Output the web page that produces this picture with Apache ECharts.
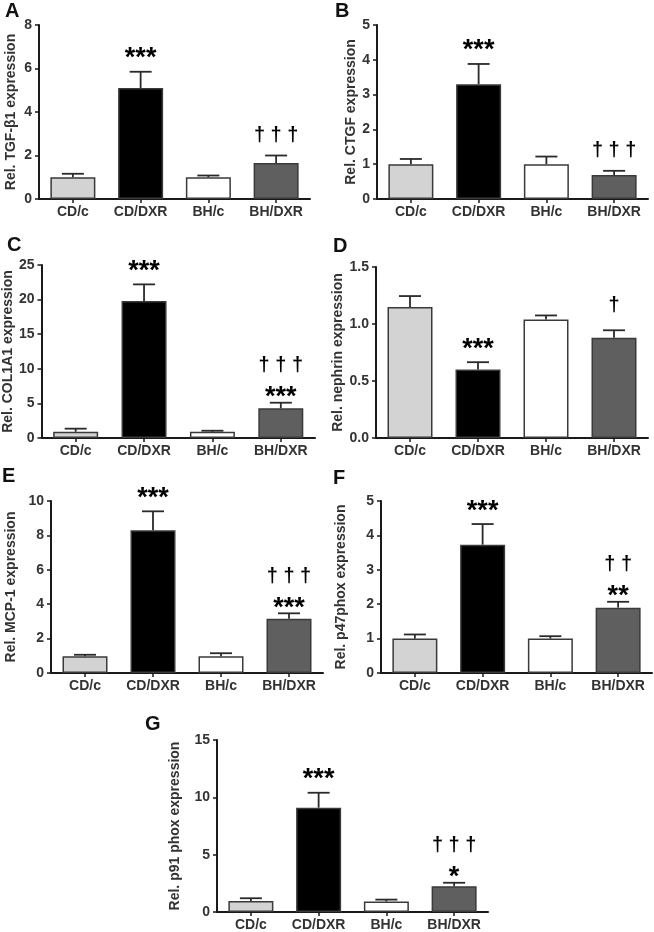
<!DOCTYPE html>
<html>
<head>
<meta charset="utf-8">
<script src="https://cdn.jsdelivr.net/npm/echarts@6/dist/echarts.min.js"></script>
<style>
  html, body { margin: 0; padding: 0; background: #fff; }
  #chart { width: 654px; height: 932px; }
</style>
</head>
<body>
<div id="chart"></div>
<script>
// ---------------- DATA ----------------
const categories = ['CD/c', 'CD/DXR', 'BH/c', 'BH/DXR'];

const tgfMean = [1.0, 5.1, 1.0, 1.65];
const tgfErr = [1.16, 5.85, 1.08, 2.0];
const tgfStars = ['', '***', '', ''];
const tgfDaggers = ['', '', '', '† † †'];

const ctgfMean = [1.0, 3.3, 1.0, 0.69];
const ctgfErr = [1.15, 3.88, 1.22, 0.81];
const ctgfStars = ['', '***', '', ''];
const ctgfDaggers = ['', '', '', '† † †'];

const colMean = [0.9, 19.8, 0.9, 4.3];
const colErr = [1.35, 22.2, 1.05, 5.1];
const colStars = ['', '***', '', '***'];
const colDaggers = ['', '', '', '† † †'];

const nephMean = [1.15, 0.6, 1.04, 0.88];
const nephErr = [1.245, 0.665, 1.075, 0.945];
const nephStars = ['', '***', '', ''];
const nephDaggers = ['', '', '', '†'];

const mcpMean = [0.97, 8.3, 0.97, 3.15];
const mcpErr = [1.06, 9.4, 1.15, 3.47];
const mcpStars = ['', '***', '', '***'];
const mcpDaggers = ['', '', '', '† † †'];

const p47Mean = [1.0, 3.73, 1.0, 1.9];
const p47Err = [1.12, 4.33, 1.07, 2.07];
const p47Stars = ['', '***', '', '**'];
const p47Daggers = ['', '', '', '† †'];

const p91Mean = [0.95, 9.1, 0.92, 2.25];
const p91Err = [1.2, 10.4, 1.08, 2.55];
const p91Stars = ['', '***', '', '*'];
const p91Daggers = ['', '', '', '† † †'];

const panelLetters = ['A', 'B', 'C', 'D', 'E', 'F', 'G'];
const yNames = ['Rel. TGF-β1 expression', 'Rel. CTGF expression', 'Rel. COL1A1 expression',
  'Rel. nephrin expression', 'Rel. MCP-1 expression', 'Rel. p47phox expression', 'Rel. p91 phox expression'];
const yMax = [8, 5, 25, 1.5, 10, 5, 15];
const yStep = [2, 1, 5, 0.5, 2, 1, 5];

// ---------------- LAYOUT / STYLE ----------------
const FONT = '"Liberation Sans", Arial, sans-serif';
const barColors = ['#d3d3d3', '#000000', '#ffffff', '#5f5f5f'];
const panels = [
  { mean: tgfMean, err: tgfErr, stars: tgfStars, daggers: tgfDaggers, grid: { left: 39, top: 25, width: 271, height: 174 }, nameGap: 21, letter: [5, 1] },
  { mean: ctgfMean, err: ctgfErr, stars: ctgfStars, daggers: ctgfDaggers, grid: { left: 377, top: 25, width: 271, height: 174 }, nameGap: 19, letter: [335, 1] },
  { mean: colMean, err: colErr, stars: colStars, daggers: colDaggers, grid: { left: 41, top: 265, width: 274, height: 173 }, nameGap: 21, letter: [7, 235] },
  { mean: nephMean, err: nephErr, stars: nephStars, daggers: nephDaggers, grid: { left: 376, top: 267, width: 272, height: 171 }, nameGap: 26, letter: [333, 236] },
  { mean: mcpMean, err: mcpErr, stars: mcpStars, daggers: mcpDaggers, grid: { left: 51, top: 501, width: 272, height: 172 }, nameGap: 33, letter: [2, 466] },
  { mean: p47Mean, err: p47Err, stars: p47Stars, daggers: p47Daggers, grid: { left: 381, top: 501, width: 271, height: 172 }, nameGap: 33, letter: [333, 468] },
  { mean: p91Mean, err: p91Err, stars: p91Stars, daggers: p91Daggers, grid: { left: 217, top: 740, width: 271, height: 172 }, nameGap: 35, letter: [145, 714] }
];

const grids = [], xAxes = [], yAxes = [], series = [], titles = [];

panels.forEach((p, k) => {
  grids.push(Object.assign({ containLabel: false }, p.grid));
  titles.push({
    text: panelLetters[k], left: p.letter[0], top: p.letter[1], padding: 0,
    textStyle: { fontFamily: FONT, fontSize: 20, fontWeight: 'bold', color: '#111' }
  });
  xAxes.push({
    type: 'category', gridIndex: k, data: categories,
    axisLine: { lineStyle: { color: '#1a1a1a', width: 2 } },
    axisTick: { show: true, alignWithLabel: true, length: 4, lineStyle: { color: '#1a1a1a', width: 1.5 } },
    axisLabel: { interval: 0, fontFamily: FONT, fontSize: 14, fontWeight: 'bold', color: '#333', margin: 6 }
  });
  yAxes.push({
    type: 'value', gridIndex: k, min: 0, max: yMax[k], interval: yStep[k],
    name: yNames[k], nameLocation: 'middle', nameGap: p.nameGap,
    nameTextStyle: { fontFamily: FONT, fontSize: 14, fontWeight: 'bold', color: '#333' },
    axisLine: { show: true, lineStyle: { color: '#1a1a1a', width: 2 } },
    axisTick: { show: true, length: 4, lineStyle: { color: '#1a1a1a', width: 1.5 } },
    splitLine: { show: false },
    axisLabel: {
      fontFamily: FONT, fontSize: 14, fontWeight: 'bold', color: '#333', margin: 7,
      formatter: yStep[k] < 1 ? (v) => v.toFixed(1) : (v) => String(v)
    }
  });
  series.push({
    type: 'bar', xAxisIndex: k, yAxisIndex: k, barWidth: 45,
    data: p.mean.map((v, i) => ({
      value: v,
      itemStyle: { color: barColors[i], borderColor: '#3a3a3a', borderWidth: 1.5 }
    })),
    z: 2
  });
  const stars = p.stars, daggers = p.daggers;
  series.push({
    type: 'custom', xAxisIndex: k, yAxisIndex: k, z: 3,
    data: p.mean.map((v, i) => [i, v, p.err[i]]),
    renderItem: function (params, api) {
      const i = api.value(0);
      const top = api.coord([i, api.value(2)]);
      const base = api.coord([i, api.value(1)]);
      const cap = 11;
      const ls = { stroke: '#2a2a2a', lineWidth: 1.8 };
      const children = [
        { type: 'line', shape: { x1: top[0], y1: base[1], x2: top[0], y2: top[1] }, style: ls },
        { type: 'line', shape: { x1: top[0] - cap, y1: top[1], x2: top[0] + cap, y2: top[1] }, style: ls }
      ];
      const s = stars[i], d = daggers[i];
      const both = s && d;
      if (s) {
        children.push({
          type: 'text', x: top[0], y: top[1] - (both ? 5 : 13),
          style: { text: s, font: 'bold 27px ' + FONT, fill: '#000', textAlign: 'center', textVerticalAlign: 'middle' }
        });
      }
      if (d) {
        children.push({
          type: 'text', x: top[0], y: top[1] - (both ? 37 : (d.length === 1 ? 25 : 20)),
          style: { text: d, font: 'bold 20px ' + FONT, fill: '#000', textAlign: 'center', textVerticalAlign: 'middle' }
        });
      }
      return { type: 'group', children: children };
    }
  });
});

const chart = echarts.init(document.getElementById('chart'), null, { renderer: 'canvas' });
chart.setOption({
  backgroundColor: '#ffffff',
  animation: false,
  title: titles,
  grid: grids,
  xAxis: xAxes,
  yAxis: yAxes,
  series: series
});
</script>
</body>
</html>
